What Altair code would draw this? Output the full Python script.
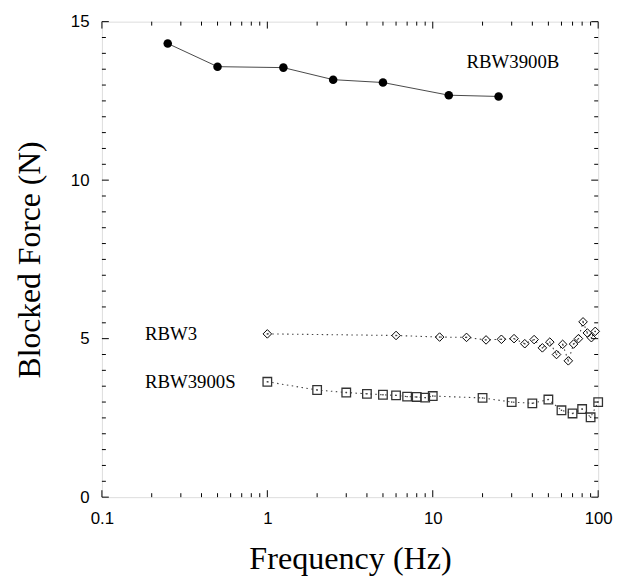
import altair as alt
import pandas as pd

# ---- data ----
b_freq = [0.25, 0.5, 1.25, 2.5, 5, 12.5, 25]
b_force = [14.31, 13.58, 13.55, 13.17, 13.08, 12.68, 12.64]

r3_freq = [1, 6, 11, 16, 21, 26, 31, 36, 41, 46, 51, 56, 61, 66, 71, 76, 81, 86, 91, 96]
r3_force = [5.15, 5.10, 5.05, 5.04, 4.96, 4.98, 5.00, 4.84, 4.97, 4.71,
            4.89, 4.50, 4.82, 4.30, 4.83, 5.00, 5.53, 5.18, 5.03, 5.23]

s_freq = [1, 2, 3, 4, 5, 6, 7, 8, 9, 10, 20, 30, 40, 50, 60, 70, 80, 90, 100]
s_force = [3.64, 3.38, 3.30, 3.26, 3.23, 3.21, 3.17, 3.16, 3.14, 3.19,
           3.13, 3.00, 2.96, 3.08, 2.74, 2.64, 2.78, 2.52, 3.00]

label_names = ["RBW3900B", "RBW3", "RBW3900S"]
label_freq = [16.0, 0.182, 0.182]
label_force = [13.74, 5.15, 3.64]

x_major = [0.1, 1, 10, 100]
x_minor = [m * d for d in [0.1, 1, 10] for m in range(2, 10)]
y_major = [0, 5, 10, 15]
y_minor = [v * 0.5 for v in range(31) if (v * 0.5) % 5 != 0]

W, H = 502, 481

xs = alt.Scale(type="log", domain=[0.1, 100], nice=False)
ys = alt.Scale(domain=[0, 15], nice=False, zero=False)

dfB = pd.DataFrame({"f": b_freq, "v": b_force})
dfR = pd.DataFrame({"f": r3_freq, "v": r3_force})
dfS = pd.DataFrame({"f": s_freq, "v": s_force})
dfL = pd.DataFrame({"name": label_names, "f": label_freq, "v": label_force})

x_axis = alt.Axis(values=x_major, format="~g", ticks=False, domain=False, grid=False,
                  labelFont="Liberation Sans", labelFontSize=17, labelColor="black",
                  labelPadding=14, labelFlush=False,
                  titleFont="Liberation Serif", titleFontSize=32.5, titleFontWeight="normal",
                  titleColor="black", titlePadding=16)
y_axis = alt.Axis(values=y_major, ticks=False, domain=False, grid=False,
                  labelFont="Liberation Sans", labelFontSize=17, labelColor="black",
                  labelPadding=13,
                  titleFont="Liberation Serif", titleFontSize=32, titleFontWeight="normal",
                  titleColor="black", titlePadding=24)

X = alt.X("f:Q", scale=xs, title="Frequency (Hz)", axis=x_axis)
Y = alt.Y("v:Q", scale=ys, title="Blocked Force (N)", axis=y_axis)

lineB = alt.Chart(dfB).mark_line(color="#333", strokeWidth=0.9).encode(x=X, y=Y)
ptsB = alt.Chart(dfB).mark_point(shape="circle", filled=True, color="black", size=75,
                                 opacity=1).encode(x=X, y=Y)

lineR = alt.Chart(dfR).mark_line(color="#444", strokeWidth=1.1, strokeDash=[1.5, 3.5]).encode(x=X, y=Y)
ptsR = alt.Chart(dfR).mark_point(shape="diamond", filled=False, color="black", size=75,
                                 strokeWidth=1, opacity=1).encode(x=X, y=Y)
dotR = alt.Chart(dfR).mark_point(shape="square", filled=True, color="#444", size=2,
                                 opacity=1).encode(x=X, y=Y)

lineS = alt.Chart(dfS).mark_line(color="#444", strokeWidth=1.1, strokeDash=[1.5, 3.5]).encode(x=X, y=Y)
ptsS = alt.Chart(dfS).mark_point(shape="square", filled=False, color="#333", size=75,
                                 strokeWidth=1.3, opacity=1).encode(x=X, y=Y)
dotS = alt.Chart(dfS).mark_point(shape="square", filled=True, color="#444", size=2,
                                 opacity=1).encode(x=X, y=Y)

labels = alt.Chart(dfL).mark_text(align="left", baseline="middle", font="Liberation Serif",
                                  fontSize=19, color="black").encode(x=X, y=Y, text="name:N")

# inward ticks on all four sides (tick values placed through the shared scales)
def yticks(vals, length):
    df = pd.DataFrame({"v": vals})
    left = alt.Chart(df).mark_rule(color="black", strokeWidth=1).encode(
        y=Y, x=alt.value(0), x2=alt.value(length))
    right = alt.Chart(df).mark_rule(color="black", strokeWidth=1).encode(
        y=Y, x=alt.value(W), x2=alt.value(W - length))
    return [left, right]

def xticks(vals, length):
    df = pd.DataFrame({"f": vals})
    bottom = alt.Chart(df).mark_rule(color="black", strokeWidth=1).encode(
        x=X, y=alt.value(H), y2=alt.value(H - length))
    top = alt.Chart(df).mark_rule(color="black", strokeWidth=1).encode(
        x=X, y=alt.value(0), y2=alt.value(length))
    return [bottom, top]

ticks = yticks(y_minor, 4) + yticks(y_major, 7) + xticks(x_minor, 4) + xticks(x_major, 7)

chart = alt.layer(
    lineB, lineR, lineS, ptsB, ptsR, dotR, ptsS, dotS, labels, *ticks
).properties(
    width=W, height=H,
    autosize=alt.AutoSizeParams(type="none"),
    padding={"left": 95, "top": 10.5, "right": 15, "bottom": 81},
).configure_view(stroke="black", strokeWidth=1.2).configure(background="white")

chart.save("out.html", embed_options={"renderer": "svg", "actions": False})
